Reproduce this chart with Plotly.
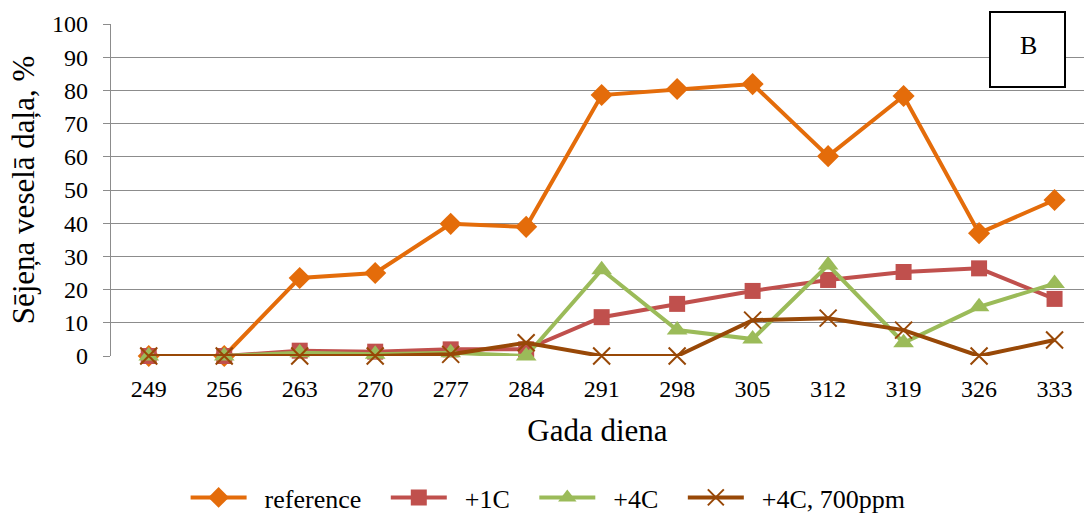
import plotly.graph_objects as go

days = ["249", "256", "263", "270", "277", "284", "291", "298", "305", "312", "319", "326", "333"]
reference = [0, 0, 23.5, 25, 39.8, 38.9, 78.6, 80.4, 81.9, 60.2, 78.3, 37, 47]
plus1c = [0, 0, 1.6, 1.3, 2.0, 2.0, 11.7, 15.7, 19.6, 22.9, 25.3, 26.4, 17.2]
plus4c = [0, 0, 1.0, 0.5, 1.0, 0, 26.0, 7.8, 5.1, 27.4, 4.0, 14.8, 21.8]
plus4c_700 = [0, 0, 0, 0, 0.5, 4.0, 0, 0, 10.8, 11.4, 7.8, 0, 4.8]
series_names = ["reference", "+1C", "+4C", "+4C, 700ppm"]

font = "Times New Roman"
NB = "\u00a0"

fig = go.Figure()
styles = [
    ("#E46C0A", dict(symbol="diamond", size=17)),
    ("#C0504D", dict(symbol="square", size=16)),
    ("#9BBB59", dict(symbol="triangle-up", size=18)),
    ("#984807", dict(symbol="x-thin-open", size=17, line=dict(width=2, color="#984807"))),
]
for name, vals, (color, mk) in zip(series_names, [reference, plus1c, plus4c, plus4c_700], styles):
    mk = dict(mk)
    mk["color"] = color
    fig.add_trace(go.Scatter(x=days, y=vals, name=NB * 2 + name + NB * 3, mode="lines+markers",
                             line=dict(color=color, width=4), marker=mk, cliponaxis=False))

fig.update_layout(
    width=1084, height=515,
    margin=dict(l=111, r=0, t=24, b=159),
    paper_bgcolor="white", plot_bgcolor="white",
    font=dict(family=font, size=24, color="black"),
    showlegend=True,
    legend=dict(orientation="h", x=0.459, xanchor="center", yref="container", y=0.034, yanchor="middle",
                font=dict(size=26), tracegroupgap=0, itemwidth=56),
    xaxis=dict(type="category", range=[-0.5, 12.39], showgrid=False, showline=False,
               zeroline=False, ticks="", ticklabelstandoff=16, automargin=False,
               tickfont=dict(size=24),
               title=dict(text="Gada diena", font=dict(size=31), standoff=18)),
    yaxis=dict(range=[0, 100], dtick=10, showgrid=True, gridcolor="#8C8C8C", gridwidth=1.3,
               showline=True, linecolor="#8C8C8C", linewidth=1.3, zeroline=False,
               ticks="outside", ticklen=7, tickcolor="#8C8C8C", ticklabelstandoff=10,
               tickfont=dict(size=24), automargin=False,
               title=dict(text="Sējeņa veselā daļa, %", font=dict(size=31), standoff=8)),
    shapes=[dict(type="rect", xref="paper", yref="paper",
                 x0=(990 - 111) / 973, x1=(1065 - 111) / 973,
                 y0=(356 - 87) / 332, y1=(356 - 12) / 332,
                 line=dict(color="black", width=2), fillcolor="white")],
    annotations=[dict(text="B", xref="paper", yref="paper",
                      x=(1028 - 111) / 973, y=(356 - 45) / 332,
                      showarrow=False, font=dict(size=26), xanchor="center", yanchor="middle")],
)

fig.write_html("out.html", config={"displayModeBar": False},
               post_script="document.body.style.margin='0';document.body.style.overflow='hidden';")
